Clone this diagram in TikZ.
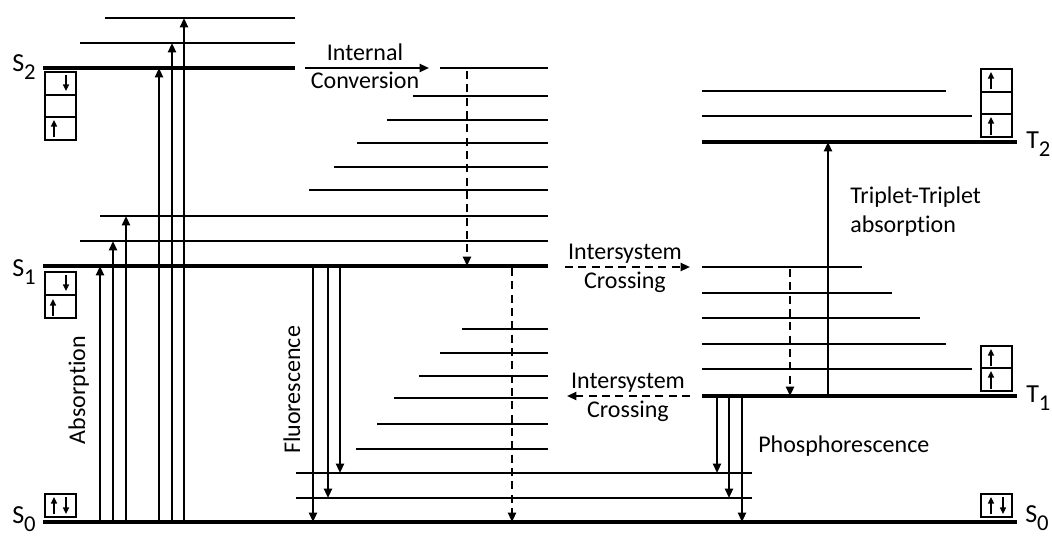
\documentclass[tikz,border=0pt]{standalone}
\usepackage{fontspec}
\setmainfont{Carlito}[Ligatures=NoCommon]
\usetikzlibrary{arrows.meta}

\begin{document}
\begin{tikzpicture}[x=0.75pt, y=-0.75pt,
  levelLine/.style={line width=3.4pt},
  vibLine/.style={line width=1.5pt},
  radArrow/.style={line width=1.5pt, -{Triangle[width=6pt,length=7pt]}},
  nonRadArrow/.style={radArrow, dash pattern=on 6pt off 4pt},
  spinBox/.style={line width=1.1pt},
  spinArrow/.style={line width=1.1pt, -{Triangle[width=4.5pt,length=5pt]}},
  procText/.style={font=\fontsize{18}{20}\selectfont, inner sep=0pt},
  stateText/.style={font=\fontsize{19.5}{21}\selectfont, inner sep=0pt, anchor=base west}]

% Etichetta di stato con pedice
\def\stato#1#2{#1\raisebox{-6.5pt}{\fontsize{17}{17}\selectfont #2}}

\useasboundingbox (0,0) rectangle (1052,536);

% Livelli elettronici
\draw[levelLine] (43,68) -- (295,68);
\draw[levelLine] (43,266) -- (548,266);
\draw[levelLine] (43,522) -- (1017,522);
\draw[levelLine] (702,142) -- (1017,142);
\draw[levelLine] (702,396) -- (1017,396);

% Livelli vibrazionali S2
\draw[vibLine] (105,18) -- (295,18);
\draw[vibLine] (80,43) -- (295,43);

% Livelli vibrazionali S1
\draw[vibLine] (440,68) -- (548,68);
\draw[vibLine] (413,96) -- (548,96);
\draw[vibLine] (387,120) -- (548,120);
\draw[vibLine] (357,143) -- (548,143);
\draw[vibLine] (334,167) -- (548,167);
\draw[vibLine] (309,190) -- (548,190);
\draw[vibLine] (100,216) -- (548,216);
\draw[vibLine] (80,241) -- (548,241);

% Livelli vibrazionali S0
\draw[vibLine] (462,329) -- (548,329);
\draw[vibLine] (440,353) -- (548,353);
\draw[vibLine] (419,376) -- (548,376);
\draw[vibLine] (394,398) -- (548,398);
\draw[vibLine] (377,424) -- (548,424);
\draw[vibLine] (356,449) -- (548,449);
\draw[vibLine] (296,473) -- (752,473);
\draw[vibLine] (296,498) -- (752,498);

% Livelli vibrazionali T2
\draw[vibLine] (702,91) -- (946,91);
\draw[vibLine] (702,116) -- (972,116);

% Livelli vibrazionali T1
\draw[vibLine] (702,267) -- (862,267);
\draw[vibLine] (702,293) -- (892,293);
\draw[vibLine] (702,318) -- (920,318);
\draw[vibLine] (702,344) -- (946,344);
\draw[vibLine] (702,369) -- (972,369);

% Assorbimento
\draw[radArrow] (100,522) -- (100,266);
\draw[radArrow] (113,522) -- (113,241);
\draw[radArrow] (126,522) -- (126,216);
\draw[radArrow] (159,522) -- (159,68);
\draw[radArrow] (172,522) -- (172,43);
\draw[radArrow] (184,522) -- (184,18);

% Conversione interna
\draw[radArrow] (305,68) -- (429,68);
\draw[nonRadArrow] (467,71) -- (467,266);
\draw[nonRadArrow] (512,268) -- (512,522);

% Fluorescenza
\draw[radArrow] (313,266) -- (313,522);
\draw[radArrow] (328,266) -- (328,498);
\draw[radArrow] (340,266) -- (340,473);

% Intersystem crossing
\draw[nonRadArrow] (565,267) -- (690,267);
\draw[nonRadArrow] (690,396) -- (567,396);
\draw[nonRadArrow] (790,269) -- (790,396);

% Assorbimento tripletto-tripletto
\draw[radArrow] (828,396) -- (828,142);

% Fosforescenza
\draw[radArrow] (717,396) -- (717,473);
\draw[radArrow] (729,396) -- (729,498);
\draw[radArrow] (742,396) -- (742,522);

% Caselle di spin
\draw[spinBox] (45,72) rectangle (76,140) (45,95) -- (76,95) (45,117) -- (76,117);
\draw[spinArrow] (66,75) -- (66,91);
\draw[spinArrow] (54,137) -- (54,120);

\draw[spinBox] (45,272) rectangle (76,318) (45,295) -- (76,295);
\draw[spinArrow] (66,275) -- (66,291);
\draw[spinArrow] (53,316) -- (53,299);

\draw[spinBox] (45,494) rectangle (76,517);
\draw[spinArrow] (54,514) -- (54,497);
\draw[spinArrow] (66,497) -- (66,514);

\draw[spinBox] (981,69) rectangle (1012,137) (981,92) -- (1012,92) (981,114) -- (1012,114);
\draw[spinArrow] (991,89) -- (991,72);
\draw[spinArrow] (991,135) -- (991,117);

\draw[spinBox] (981,346) rectangle (1012,391) (981,368) -- (1012,368);
\draw[spinArrow] (991,366) -- (991,349);
\draw[spinArrow] (991,389) -- (991,371);

\draw[spinBox] (981,494) rectangle (1012,517);
\draw[spinArrow] (991,514) -- (991,497);
\draw[spinArrow] (1003,497) -- (1003,514);

% Etichette degli stati
\node[stateText] (labS2) at (12,71) {\stato{S}{2}};
\node[stateText] (labS1) at (12,276) {\stato{S}{1}};
\node[stateText] (labS0) at (12,523) {\stato{S}{0}};
\node[stateText] (labT2) at (1026,148) {\stato{T}{2}};
\node[stateText] (labT1) at (1026,402) {\stato{T}{1}};
\node[stateText] (labS0r) at (1025,522) {\stato{S}{0}};

% Processi
\node[procText, anchor=base] (icTop) at (365,60) {Internal};
\node[procText, anchor=base] (icBot) at (365,88) {Conversion};
\node[procText, anchor=base] (iscTopA) at (625,259) {Intersystem};
\node[procText, anchor=base] (iscTopB) at (625,288) {Crossing};
\node[procText, anchor=base] (iscBotA) at (628,388) {Intersystem};
\node[procText, anchor=base] (iscBotB) at (628,417) {Crossing};
\node[procText, anchor=base west] (ttaA) at (850,203) {Triplet-Triplet};
\node[procText, anchor=base west] (ttaB) at (850,232) {absorption};
\node[procText, anchor=base west] (phos) at (758,452) {Phosphorescence};
\node[procText, anchor=base, rotate=90] (abs) at (85,390) {Absorption};
\node[procText, anchor=base, rotate=90] (fluo) at (300,390) {Fluorescence};

\end{tikzpicture}
\end{document}
